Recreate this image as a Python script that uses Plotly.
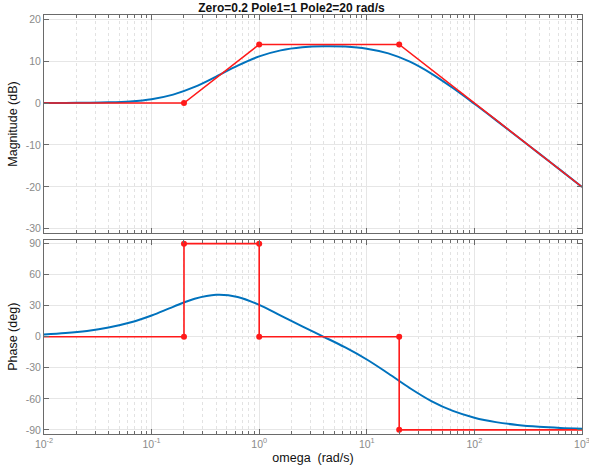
import plotly.graph_objects as go

# ---- data ----
omega = [0.01, 0.015849, 0.025119, 0.039811, 0.063096, 0.1, 0.15849, 0.25119, 0.39811, 0.63096,
         1.0, 1.5849, 2.5119, 3.9811, 6.3096, 10.0, 15.849, 25.119, 39.811, 63.096,
         100.0, 158.49, 251.19, 398.11, 630.96, 1000.0]
mag_db = [0.010, 0.026, 0.065, 0.162, 0.395, 0.926, 2.008, 3.846, 6.316, 8.935,
          11.129, 12.565, 13.300, 13.556, 13.464, 12.969, 11.846, 9.861, 7.020, 3.583,
          -0.171, -4.069, -8.028, -12.011, -16.004, -20.002]
phase_deg = [2.26, 3.58, 5.65, 8.86, 13.72, 20.57, 28.93, 36.65, 40.48, 38.48,
             30.83, 20.40, 10.00, -0.03, -10.32, -22.00, -35.51, -49.65, -62.18, -71.69,
             -78.23, -82.52, -85.27, -87.01, -88.11, -88.81]

asym_mag_w = [0.01, 0.2, 1.0, 20.0, 1000.0]
asym_mag_db = [0.0, 0.0, 13.98, 13.98, -20.0]
asym_mag_marked = [0.2, 1.0, 20.0]
asym_mag_marked_db = [0.0, 13.98, 13.98]

asym_ph_w = [0.01, 0.2, 0.2, 1.0, 1.0, 20.0, 20.0, 1000.0]
asym_ph_deg = [0, 0, 90, 90, 0, 0, -90, -90]
asym_ph_marked_w = [0.2, 0.2, 1.0, 1.0, 20.0, 20.0]
asym_ph_marked_deg = [0, 90, 90, 0, 0, -90]

x_tickvals = [0.01, 0.1, 1, 10, 100, 1000]
x_ticktext = ["10<sup>-2</sup>", "10<sup>-1</sup>", "10<sup>0</sup>",
              "10<sup>1</sup>", "10<sup>2</sup>", "10<sup>3</sup>"]
mag_ticks = [-30, -20, -10, 0, 10, 20]
ph_ticks = [-90, -60, -30, 0, 30, 60, 90]

title_text = "Zero=0.2 Pole1=1 Pole2=20 rad/s"

# ---- figure ----
BLUE = "#0072BD"
RED = "#FF1A1A"
minor_vals = [m * 10 ** e for e in range(-2, 3) for m in range(2, 10)]

fig = go.Figure()
fig.add_trace(go.Scatter(x=omega, y=mag_db, mode="lines", line=dict(color=BLUE, width=2, shape="spline"),
                         xaxis="x2", yaxis="y2", showlegend=False))
fig.add_trace(go.Scatter(x=asym_mag_w, y=asym_mag_db, mode="lines", line=dict(color=RED, width=1.6),
                         xaxis="x2", yaxis="y2", showlegend=False))
fig.add_trace(go.Scatter(x=asym_mag_marked, y=asym_mag_marked_db, mode="markers",
                         marker=dict(color=RED, size=6), xaxis="x2", yaxis="y2", showlegend=False))

fig.add_trace(go.Scatter(x=omega, y=phase_deg, mode="lines", line=dict(color=BLUE, width=2, shape="spline"),
                         xaxis="x", yaxis="y", showlegend=False))
fig.add_trace(go.Scatter(x=asym_ph_w, y=asym_ph_deg, mode="lines", line=dict(color=RED, width=1.6),
                         xaxis="x", yaxis="y", showlegend=False))
fig.add_trace(go.Scatter(x=asym_ph_marked_w, y=asym_ph_marked_deg, mode="markers",
                         marker=dict(color=RED, size=6), xaxis="x", yaxis="y", showlegend=False))

AX = "#6a6a6a"
TICKF = dict(family="Liberation Sans, Arial, sans-serif", size=10.5, color="#8a8a8a")
GRID = "#e6e6e6"
MINOR = dict(tickmode="array", tickvals=minor_vals, ticks="inside", ticklen=3, tickcolor=AX,
             showgrid=True, gridcolor="#e2e2e2", griddash="dot", gridwidth=1)

common_x = dict(type="log", range=[-2.00002, 3.00002], tickmode="array", tickvals=x_tickvals,
                showline=True, linecolor=AX, linewidth=1, mirror="ticks", ticks="inside",
                ticklen=5, tickcolor=AX, showgrid=True, gridcolor=GRID, gridwidth=1.2,
                zeroline=False, tickfont=TICKF, minor=MINOR, automargin=False,
                ticklabeloverflow="allow")
common_y = dict(showline=True, linecolor=AX, linewidth=1, mirror="ticks", ticks="inside",
                ticklen=5, tickcolor=AX, showgrid=True, gridcolor=GRID, gridwidth=1.2,
                zeroline=False, tickfont=TICKF, tickmode="array", automargin=False)

LBL = dict(family="Liberation Sans, Arial, sans-serif", size=12.5, color="#111111")

fig.update_layout(
    width=589, height=465,
    margin=dict(l=44, r=7, t=15, b=31, autoexpand=False),
    paper_bgcolor="white", plot_bgcolor="white",
    title=dict(text="<b>" + title_text + "</b>", x=0.46, xref="paper", xanchor="center",
               y=1 - 8 / 465, yref="container", yanchor="middle",
               font=dict(family="Liberation Sans, Arial, sans-serif", size=12, color="#111111")),
    xaxis=dict(common_x, domain=[0, 1], anchor="y", ticktext=x_ticktext,
               title=dict(text="omega  (rad/s)", font=LBL, standoff=4)),
    xaxis2=dict(common_x, domain=[0, 1], anchor="y2", matches="x", showticklabels=False,
                ticktext=x_ticktext),
    yaxis=dict(common_y, domain=[0, 0.4642], range=[-94, 94], tickvals=ph_ticks,
               ticktext=[str(v) for v in ph_ticks],
               title=dict(text="Phase (deg)", font=LBL, standoff=5)),
    yaxis2=dict(common_y, domain=[0.4797, 1], range=[-31, 21], tickvals=mag_ticks,
                ticktext=[str(v) for v in mag_ticks],
                title=dict(text="Magnitude (dB)", font=LBL, standoff=5)),
)

fig.write_html("out.html")
